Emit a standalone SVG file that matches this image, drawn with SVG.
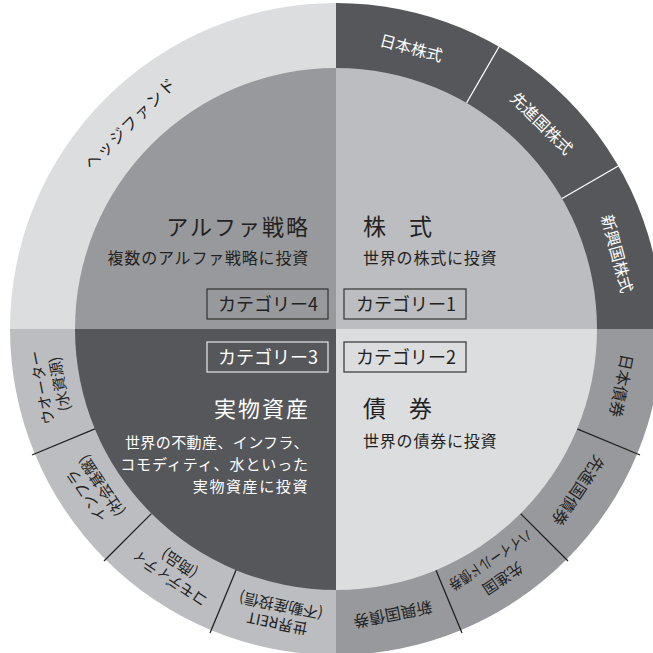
<svg xmlns="http://www.w3.org/2000/svg" width="653" height="653" viewBox="0 0 653 653">
<style>
text{font-family:"Noto Sans CJK JP","Noto Sans",sans-serif;}
.ring{font-size:16px;fill:#222;text-anchor:middle;dominant-baseline:central;}
.ring2{font-size:15px;fill:#222;text-anchor:middle;dominant-baseline:central;}
.ringw{font-size:16px;fill:#fff;text-anchor:middle;dominant-baseline:central;}
.title{font-size:22px;fill:#222;letter-spacing:2px;}
.sub{font-size:16px;fill:#222;letter-spacing:0.8px;}
.cat{font-size:18px;fill:#222;text-anchor:middle;}
.box{fill:none;stroke:#333;stroke-width:1.2;}
.divw{stroke:#fff;stroke-width:1.3;}
.divk{stroke:#222;stroke-width:1.3;}
</style>
<rect width="653" height="653" fill="#fff"/>

<g id="hedge-fund">
  <path d="M336,329 L10,329 A326,326 0 0 1 336,3 Z" fill="#dcdddf"/>
  <text class="ring" transform="rotate(-45 336 329)" x="336" y="37" style="letter-spacing:1.5px">ヘッジファンド</text>
</g>
<g id="stocks-ring">
  <path d="M336,329 L336,3 A326,326 0 0 1 662,329 Z" fill="#56575b"/>
  <text class="ringw" transform="rotate(15 336 329)" x="336" y="37">日本株式</text>
  <text class="ringw" transform="rotate(45 336 329)" x="336" y="37">先進国株式</text>
  <text class="ringw" transform="rotate(75 336 329)" x="336" y="37">新興国株式</text>
</g>
<g id="bonds-ring">
  <path d="M336,329 L662,329 A326,326 0 0 1 336,655 Z" fill="#98999c"/>
  <text class="ring" transform="rotate(101.25 336 329)" x="336" y="37">日本債券</text>
  <text class="ring" transform="rotate(123.75 336 329)" x="336" y="37">先進国債券</text>
  <text class="ring2" transform="rotate(146.25 336 329)" x="336" y="28">先進国</text>
  <text class="ring2" transform="rotate(146.25 336 329)" x="336" y="50" textLength="96" lengthAdjust="spacingAndGlyphs">ハイイールド債券</text>
  <text class="ring" transform="rotate(168.75 336 329)" x="336" y="37">新興国債券</text>
</g>
<g id="real-assets-ring">
  <path d="M336,329 L336,655 A326,326 0 0 1 10,329 Z" fill="#bcbdc0"/>
  <text class="ring2" transform="rotate(191.25 336 329)" x="336" y="28">世界REIT</text>
  <text class="ring2" transform="rotate(191.25 336 329)" x="336" y="46">(不動産投信)</text>
  <text class="ring2" transform="rotate(213.75 336 329)" x="336" y="28">コモディティ</text>
  <text class="ring2" transform="rotate(213.75 336 329)" x="336" y="46">(商品)</text>
  <text class="ring2" transform="rotate(236.25 336 329)" x="336" y="28">インフラ</text>
  <text class="ring2" transform="rotate(236.25 336 329)" x="336" y="46">(社会基盤)</text>
  <text class="ring2" transform="rotate(258.75 336 329)" x="336" y="28">ウオーター</text>
  <text class="ring2" transform="rotate(258.75 336 329)" x="336" y="46">(水資源)</text>
</g>

<g id="connectors">
  <line class="divw" x1="466.5" y1="103" x2="500" y2="45"/>
  <line class="divw" x1="562" y1="198.5" x2="620" y2="165"/>
  <line class="divk" x1="577.1" y1="428.9" x2="640" y2="455"/>
  <line class="divk" x1="520.6" y1="513.6" x2="568" y2="561"/>
  <line class="divk" x1="435.9" y1="570.1" x2="462" y2="633"/>
  <line class="divk" x1="236.1" y1="570.1" x2="210" y2="633"/>
  <line class="divk" x1="151.4" y1="513.6" x2="104" y2="561"/>
  <line class="divk" x1="94.9" y1="428.9" x2="32" y2="455"/>
</g>

<g id="alpha">
  <path d="M336,329 L75,329 A261,261 0 0 1 336,68 Z" fill="#98999c"/>
  <text class="title" x="310" y="235" text-anchor="end">アルファ戦略</text>
  <text class="sub" x="309" y="264" text-anchor="end">複数のアルファ戦略に投資</text>
  <rect class="box" x="207" y="289" width="121" height="30"/>
  <text class="cat" x="268" y="311">カテゴリー4</text>
</g>
<g id="stocks">
  <path d="M336,329 L336,68 A261,261 0 0 1 597,329 Z" fill="#bcbdc0"/>
  <text class="title" x="363" y="235" style="font-size:23px;letter-spacing:0">株　式</text>
  <text class="sub" x="363" y="264">世界の株式に投資</text>
  <rect class="box" x="344" y="289" width="122" height="30"/>
  <text class="cat" x="406" y="311">カテゴリー1</text>
</g>
<g id="bonds">
  <path d="M336,329 L597,329 A261,261 0 0 1 336,590 Z" fill="#dcdddf"/>
  <rect class="box" x="344" y="342" width="122" height="30"/>
  <text class="cat" x="406" y="364">カテゴリー2</text>
  <text class="title" x="363" y="417" style="font-size:23px;letter-spacing:0">債　券</text>
  <text class="sub" x="363" y="447">世界の債券に投資</text>
</g>
<g id="real-assets">
  <path d="M336,329 L336,590 A261,261 0 0 1 75,329 Z" fill="#56575b"/>
  <rect class="box" x="207" y="342" width="121" height="30" style="stroke:#e6e6e6"/>
  <text class="cat" x="268" y="364" style="fill:#fff">カテゴリー3</text>
  <text class="title" x="310" y="417" text-anchor="end" style="fill:#fff">実物資産</text>
  <text class="sub" x="309" y="448" text-anchor="end" style="fill:#fff;font-size:15px;letter-spacing:0.4px">世界の不動産、インフラ、</text>
  <text class="sub" x="309" y="470" text-anchor="end" style="fill:#fff;font-size:15px;letter-spacing:0.9px">コモディティ、水といった</text>
  <text class="sub" x="309" y="492" text-anchor="end" style="fill:#fff;font-size:15px;letter-spacing:1.6px">実物資産に投資</text>
</g>
</svg>
